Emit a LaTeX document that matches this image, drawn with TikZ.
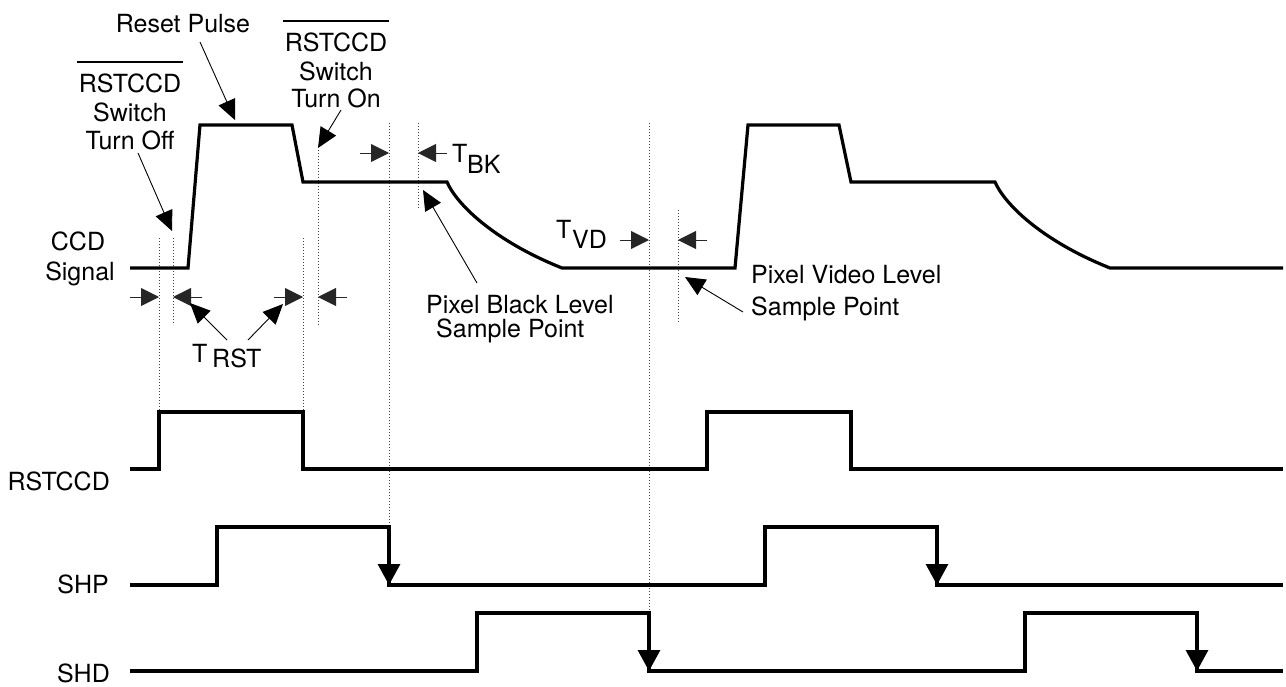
\documentclass[tikz,border=0pt]{standalone}
\usepackage{fontspec}
\setmainfont{TeX Gyre Heros}
\usetikzlibrary{arrows.meta}
\begin{document}
\begin{tikzpicture}[x=1pt,y=-1pt,
  wave/.style={line width=3.2pt, line join=miter},
  guide/.style={line width=0.9pt, black!75, dash pattern=on 0.9pt off 2.1pt},
  dimarrow/.style={line width=0.9pt, black!85, -{Triangle[length=18pt,width=18pt]}},
  pointer/.style={line width=0.9pt, -{Triangle[length=20pt,width=18pt]}},
  edgetip/.style={line width=3.2pt, -{Triangle[length=21pt,width=22pt]}},
  lbl/.style={font=\fontsize{25}{29}\selectfont, inner sep=0pt},
  bar/.style={line width=2pt}]
\useasboundingbox (0,0) rectangle (1286,686);

% guides
\draw[guide] (159,238) -- (159,412);
\draw[guide] (173,238) -- (173,325);
\draw[guide] (303,238) -- (303,412);
\draw[guide] (318,150) -- (318,325);
\draw[guide] (389,123) -- (389,527);
\draw[guide] (418,123) -- (418,208);
\draw[guide] (649,123) -- (649,613);
\draw[guide] (678,210) -- (678,323);

% CCD signal
\draw[wave] (130,268) -- (188,268) -- (200,125) -- (292,125) -- (303,182) -- (447,182)
  .. controls (456,203) and (492,240) .. (562,268) -- (735,268) -- (748,125) -- (839,125)
  -- (851,182) -- (995,182) .. controls (1004,203) and (1040,240) .. (1110,268) -- (1283,268);

% RSTCCD
\draw[wave] (130,469) -- (159,469) -- (159,412) -- (303,412) -- (303,469) -- (707,469)
  -- (707,412) -- (851,412) -- (851,469) -- (1283,469);
% SHP
\draw[wave] (130,585) -- (217,585) -- (217,527) -- (389,527) -- (389,585) -- (765,585)
  -- (765,527) -- (937,527) -- (937,585) -- (1283,585);
\draw[edgetip] (389,545) -- (389,585);
\draw[edgetip] (937,545) -- (937,585);
% SHD
\draw[wave] (130,671) -- (477,671) -- (477,613) -- (649,613) -- (649,671) -- (1025,671)
  -- (1025,613) -- (1197,613) -- (1197,671) -- (1283,671);
\draw[edgetip] (649,631) -- (649,671);
\draw[edgetip] (1197,631) -- (1197,671);

% dimension arrows
\draw[dimarrow] (130,297) -- (159,297);
\draw[dimarrow] (202,297) -- (173,297);
\draw[dimarrow] (274,297) -- (303,297);
\draw[dimarrow] (347,297) -- (318,297);
\draw[dimarrow] (360,153) -- (389,153);
\draw[dimarrow] (447,153) -- (418,153);
\draw[dimarrow] (620,240) -- (649,240);
\draw[dimarrow] (707,240) -- (678,240);

% labels
\node[lbl, anchor=base] (reset) at (183,32) {Reset Pulse};
\node[lbl, anchor=base] (l1) at (130,92) {RSTCCD};
\node[lbl, anchor=base] (l2) at (130,121) {Switch};
\node[lbl, anchor=base] (l3) at (130,149) {Turn Off};
\draw[bar] (77,62) -- (183,62);
\node[lbl, anchor=base] (r1) at (336,51) {RSTCCD};
\node[lbl, anchor=base] (r2) at (336,80) {Switch};
\node[lbl, anchor=base] (r3) at (336,107) {Turn On};
\draw[bar] (283,21) -- (389,21);
\node[lbl, anchor=base] (ccd) at (78,250) {CCD};
\node[lbl, anchor=base] (sig) at (80,280) {Signal};
\node[lbl, anchor=base west] (trstT) at (192,362) {T};
\node[lbl, anchor=base west] (trst) at (212,367) {RST};
\node[lbl, anchor=base west] (tbkT) at (452,162) {T};
\node[lbl, anchor=base west] (tbk) at (467,173) {BK};
\node[lbl, anchor=base west] (tvdT) at (556,238) {T};
\node[lbl, anchor=base west] (tvd) at (572,248) {VD};
\node[lbl, anchor=base west] (pbl) at (426,313) {Pixel Black Level};
\node[lbl, anchor=base west] (pbs) at (436,337) {Sample Point};
\node[lbl, anchor=base west] (pvl) at (751,283) {Pixel Video Level};
\node[lbl, anchor=base west] (pvs) at (751,315) {Sample Point};
\node[lbl, anchor=base east] (nrst) at (110,490) {RSTCCD};
\node[lbl, anchor=base east] (nshp) at (109,593) {SHP};
\node[lbl, anchor=base east] (nshd) at (110,682) {SHD};

% pointers
\coordinate (p1s) at (200,42);  \coordinate (p1e) at (235,120);
\coordinate (p2s) at (138,153); \coordinate (p2e) at (172,231);
\coordinate (p3s) at (341,110); \coordinate (p3e) at (318,148);
\coordinate (p4s) at (227,340); \coordinate (p4e) at (190,303);
\coordinate (p5s) at (248,340); \coordinate (p5e) at (283,304);
\coordinate (p6s) at (477,283); \coordinate (p6e) at (423,190);
\coordinate (p7s) at (743,312); \coordinate (p7e) at (685,277);
\draw[pointer] (p1s) -- (p1e);
\draw[pointer] (p2s) -- (p2e);
\draw[pointer] (p3s) -- (p3e);
\draw[pointer] (p4s) -- (p4e);
\draw[pointer] (p5s) -- (p5e);
\draw[pointer] (p6s) -- (p6e);
\draw[pointer] (p7s) -- (p7e);
\end{tikzpicture}
\end{document}
